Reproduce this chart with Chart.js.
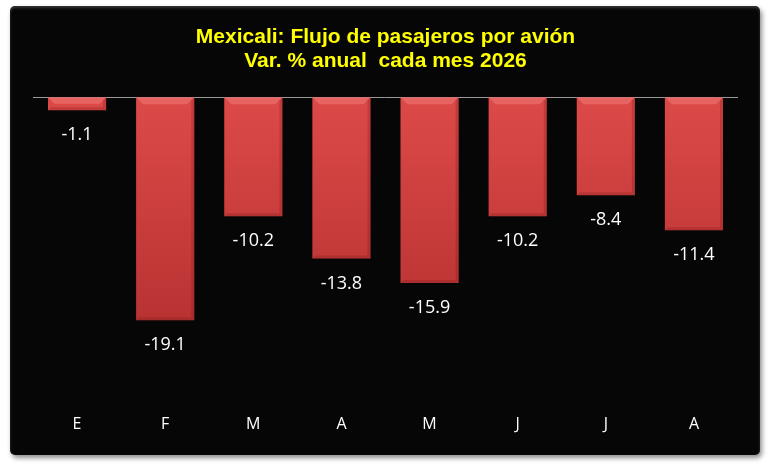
<!DOCTYPE html>
<html>
<head>
<meta charset="utf-8">
<script src="https://cdn.jsdelivr.net/npm/chart.js@4.4.1/dist/chart.umd.min.js"></script>
<style>
  html, body { margin: 0; padding: 0; background: #ffffff; }
  body { width: 770px; height: 470px; position: relative; overflow: hidden; }
  #frame {
    position: absolute; left: 10px; top: 6px; width: 750px; height: 449px;
    background: #060606; border-radius: 5px;
    box-shadow: 2px 3px 5px rgba(0,0,0,0.45), inset 0 2px 3px rgba(90,90,90,0.6);
  }
  #chart { display: block; }
</style>
</head>
<body>
<div id="frame"><canvas id="chart" width="750" height="449"></canvas></div>
<script>
// Chart data
const months = ['E', 'F', 'M', 'A', 'M', 'J', 'J', 'A'];
const varAnual = [-1.1, -19.1, -10.2, -13.8, -15.9, -10.2, -8.4, -11.4];
const titleLines = ['Mexicali: Flujo de pasajeros por avión', 'Var. % anual  cada mes 2026'];

// Zero line across the plot area
const zeroLine = {
  id: 'zeroLine',
  beforeDatasetsDraw(chart) {
    const { ctx, chartArea } = chart;
    const y = Math.round(chart.scales.y.getPixelForValue(0)) + 0.5;
    ctx.save();
    ctx.strokeStyle = '#9a9a9a';
    ctx.lineWidth = 1;
    ctx.beginPath();
    ctx.moveTo(chartArea.left, y);
    ctx.lineTo(chartArea.right, y);
    ctx.stroke();
    ctx.restore();
  }
};

// Bevel on top edge of each bar + value labels below
const barExtras = {
  id: 'barExtras',
  afterDatasetsDraw(chart) {
    const { ctx } = chart;
    const meta = chart.getDatasetMeta(0);
    ctx.save();
    meta.data.forEach((bar, i) => {
      const half = bar.width / 2;
      const left = bar.x - half, right = bar.x + half;
      const top = bar.base, bottom = bar.y;
      const b = Math.min(7, (bottom - top) / 2);
      // top bevel
      ctx.fillStyle = 'rgba(255,150,150,0.35)';
      ctx.beginPath();
      ctx.moveTo(left, top);
      ctx.lineTo(right, top);
      ctx.lineTo(right - b, top + b);
      ctx.lineTo(left + b, top + b);
      ctx.closePath();
      ctx.fill();
      // side bevels
      ctx.fillStyle = 'rgba(120,20,20,0.25)';
      ctx.beginPath();
      ctx.moveTo(right, top);
      ctx.lineTo(right, bottom);
      ctx.lineTo(right - 3, bottom - 3);
      ctx.lineTo(right - 3, top + 3);
      ctx.closePath();
      ctx.fill();
      ctx.beginPath();
      ctx.moveTo(left, bottom);
      ctx.lineTo(right, bottom);
      ctx.lineTo(right - 3, bottom - 3);
      ctx.lineTo(left + 3, bottom - 3);
      ctx.closePath();
      ctx.fill();
      // value label
      ctx.fillStyle = '#ffffff';
      ctx.font = '18px "Open Sans", "Liberation Sans", sans-serif';
      ctx.textAlign = 'center';
      ctx.textBaseline = 'middle';
      ctx.fillText(varAnual[i].toFixed(1), bar.x, bottom + 25);
    });
    ctx.restore();
  }
};

const ctx = document.getElementById('chart').getContext('2d');
new Chart(ctx, {
  type: 'bar',
  data: {
    labels: months,
    datasets: [{
      data: varAnual,
      backgroundColor: (c) => {
        const area = c.chart.chartArea;
        if (!area) return '#cc4040';
        const g = c.chart.ctx.createLinearGradient(0, area.top, 0, area.top + 230);
        g.addColorStop(0, '#dc4a48');
        g.addColorStop(1, '#b83232');
        return g;
      },
      borderWidth: 0,
      barPercentage: 0.66,
      categoryPercentage: 1
    }]
  },
  options: {
    responsive: false,
    animation: false,
    layout: { padding: { left: 23, right: 22, top: 0, bottom: 7 } },
    plugins: {
      legend: { display: false },
      tooltip: { enabled: false },
      title: {
        display: true,
        text: titleLines,
        color: '#ffff00',
        font: { family: '"Liberation Sans", Arial, sans-serif', size: 21, weight: 'bold', lineHeight: 1.15 },
        padding: { top: 19, bottom: 24 }
      }
    },
    scales: {
      x: {
        grid: { display: false, drawTicks: false },
        border: { display: false },
        ticks: {
          color: '#ffffff',
          padding: 14,
          font: { family: '"Open Sans", "Liberation Sans", sans-serif', size: 16 }
        }
      },
      y: {
        display: false,
        min: -26,
        max: 0
      }
    }
  },
  plugins: [zeroLine, barExtras]
});
</script>
</body>
</html>
